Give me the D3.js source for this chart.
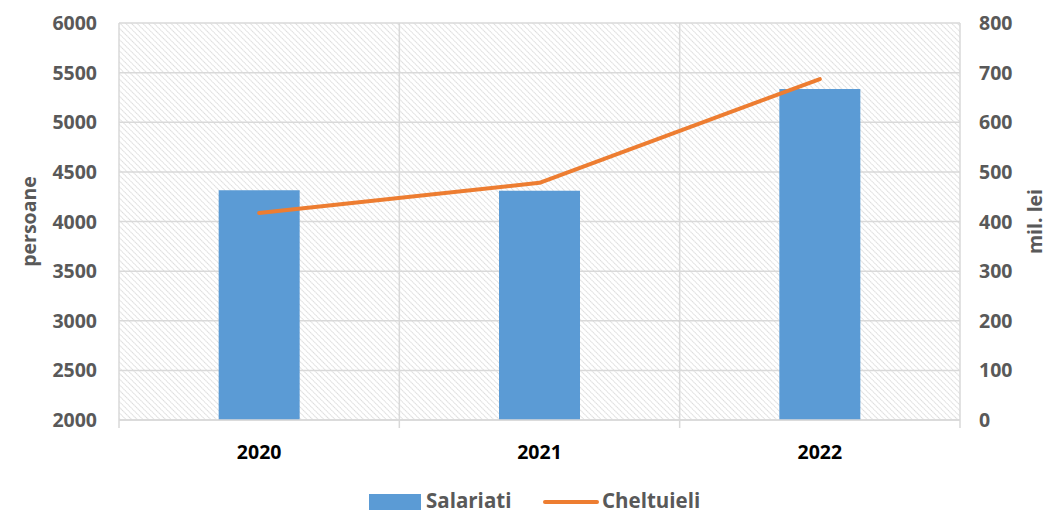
<!DOCTYPE html>
<html>
<head>
<meta charset="utf-8">
<script src="https://cdn.jsdelivr.net/npm/d3@7/dist/d3.min.js"></script>
<style>
  body { margin: 0; background: #fff; }
  text { font-family: "Open Sans", "Liberation Sans", sans-serif; font-weight: bold; }
</style>
</head>
<body>
<div id="chart-area"></div>
<script>
// ** Data **
var years = ["2020", "2021", "2022"];
var salariati = [4315, 4310, 5335];
var cheltuieli = [417, 478, 687];
var leftTicks = [2000, 2500, 3000, 3500, 4000, 4500, 5000, 5500, 6000];
var rightTicks = [0, 100, 200, 300, 400, 500, 600, 700, 800];

// ** Dimensions **
var svgWidth = 1053, svgHeight = 515;
var margin = { left: 119, right: 93, top: 23, bottom: 95 };
var width = svgWidth - margin.left - margin.right;
var height = svgHeight - margin.top - margin.bottom;
var tickSize = 19.5;

var svg = d3.select("#chart-area")
	.append("svg")
	.attr("width", svgWidth)
	.attr("height", svgHeight);

// Hatch pattern for plot background (diagonal, top-left to bottom-right)
var defs = svg.append("defs");
var pattern = defs.append("pattern")
	.attr("id", "hatch")
	.attr("patternUnits", "userSpaceOnUse")
	.attr("width", 4)
	.attr("height", 4)
	.attr("patternTransform", "rotate(-45)");
pattern.append("line")
	.attr("x1", 0).attr("y1", 0)
	.attr("x2", 0).attr("y2", 4)
	.attr("stroke", "#cfcfcf")
	.attr("stroke-width", 1.5)
	.attr("stroke-dasharray", "1.4,0.6");

var g = svg.append("g")
	.attr("transform", "translate(" + margin.left + "," + margin.top + ")");

// Scales
var x = d3.scaleBand()
	.domain(years)
	.range([0, width]);
var yLeft = d3.scaleLinear()
	.domain([2000, 6000])
	.range([height, 0]);
var yRight = d3.scaleLinear()
	.domain([0, 800])
	.range([height, 0]);

// Background
g.append("rect")
	.attr("width", width)
	.attr("height", height)
	.attr("fill", "url(#hatch)");

// Horizontal gridlines
g.selectAll(".hgrid")
	.data(leftTicks)
	.enter().append("line")
	.attr("class", "hgrid")
	.attr("x1", 0).attr("x2", width)
	.attr("y1", function(d){ return yLeft(d); })
	.attr("y2", function(d){ return yLeft(d); })
	.attr("stroke", "#d9d9d9")
	.attr("stroke-width", 1.5);

// Vertical gridlines at category boundaries
var bounds = years.map(function(d){ return x(d); }).concat([width]);
g.selectAll(".vgrid")
	.data(bounds)
	.enter().append("line")
	.attr("class", "vgrid")
	.attr("x1", function(d){ return d; })
	.attr("x2", function(d){ return d; })
	.attr("y1", 0).attr("y2", height + 8)
	.attr("stroke", "#d9d9d9")
	.attr("stroke-width", 1.5);

// Bars
var barWidth = 81;
g.selectAll(".bar")
	.data(salariati)
	.enter().append("rect")
	.attr("class", "bar")
	.attr("x", function(d, i){ return x(years[i]) + x.bandwidth()/2 - barWidth/2; })
	.attr("y", function(d){ return yLeft(d); })
	.attr("width", barWidth)
	.attr("height", function(d){ return height - yLeft(d); })
	.attr("fill", "#5b9bd5");

// Bottom axis line
g.append("line")
	.attr("x1", 0).attr("x2", width)
	.attr("y1", height).attr("y2", height)
	.attr("stroke", "#d9d9d9")
	.attr("stroke-width", 1.5);

// Line
var line = d3.line()
	.x(function(d, i){ return x(years[i]) + x.bandwidth()/2; })
	.y(function(d){ return yRight(d); });
g.append("path")
	.datum(cheltuieli)
	.attr("d", line)
	.attr("fill", "none")
	.attr("stroke", "#ed7d31")
	.attr("stroke-width", 4)
	.attr("stroke-linecap", "round")
	.attr("stroke-linejoin", "round");

// Left axis labels
g.selectAll(".ltick")
	.data(leftTicks)
	.enter().append("text")
	.attr("class", "ltick")
	.attr("x", -22)
	.attr("y", function(d){ return yLeft(d); })
	.attr("dy", "0.36em")
	.attr("text-anchor", "end")
	.attr("font-size", tickSize)
	.attr("fill", "#595959")
	.text(function(d){ return d; });

// Right axis labels
g.selectAll(".rtick")
	.data(rightTicks)
	.enter().append("text")
	.attr("class", "rtick")
	.attr("x", width + 19)
	.attr("y", function(d){ return yRight(d); })
	.attr("dy", "0.36em")
	.attr("text-anchor", "start")
	.attr("font-size", tickSize)
	.attr("fill", "#595959")
	.text(function(d){ return d; });

// X labels
g.selectAll(".xtick")
	.data(years)
	.enter().append("text")
	.attr("class", "xtick")
	.attr("x", function(d){ return x(d) + x.bandwidth()/2; })
	.attr("y", height + 39)
	.attr("text-anchor", "middle")
	.attr("font-size", tickSize)
	.attr("fill", "#000")
	.text(function(d){ return d; });

// Axis titles
svg.append("text")
	.attr("transform", "translate(36," + (margin.top + height/2) + ") rotate(-90)")
	.attr("text-anchor", "middle")
	.attr("font-size", tickSize)
	.attr("fill", "#595959")
	.text("persoane");
svg.append("text")
	.attr("transform", "translate(1042," + (margin.top + height/2) + ") rotate(-90)")
	.attr("text-anchor", "middle")
	.attr("font-size", tickSize)
	.attr("fill", "#595959")
	.text("mil. lei");

// ** Legend **
var legend = svg.append("g");
legend.append("rect")
	.attr("x", 369).attr("y", 494)
	.attr("width", 52).attr("height", 16)
	.attr("fill", "#5b9bd5");
legend.append("text")
	.attr("x", 426).attr("y", 508)
	.attr("font-size", 20.5)
	.attr("fill", "#595959")
	.text("Salariati");
legend.append("line")
	.attr("x1", 545).attr("x2", 597)
	.attr("y1", 502).attr("y2", 502)
	.attr("stroke", "#ed7d31")
	.attr("stroke-width", 4)
	.attr("stroke-linecap", "round");
legend.append("text")
	.attr("x", 602).attr("y", 508)
	.attr("font-size", 20.5)
	.attr("fill", "#595959")
	.text("Cheltuieli");
</script>
</body>
</html>
